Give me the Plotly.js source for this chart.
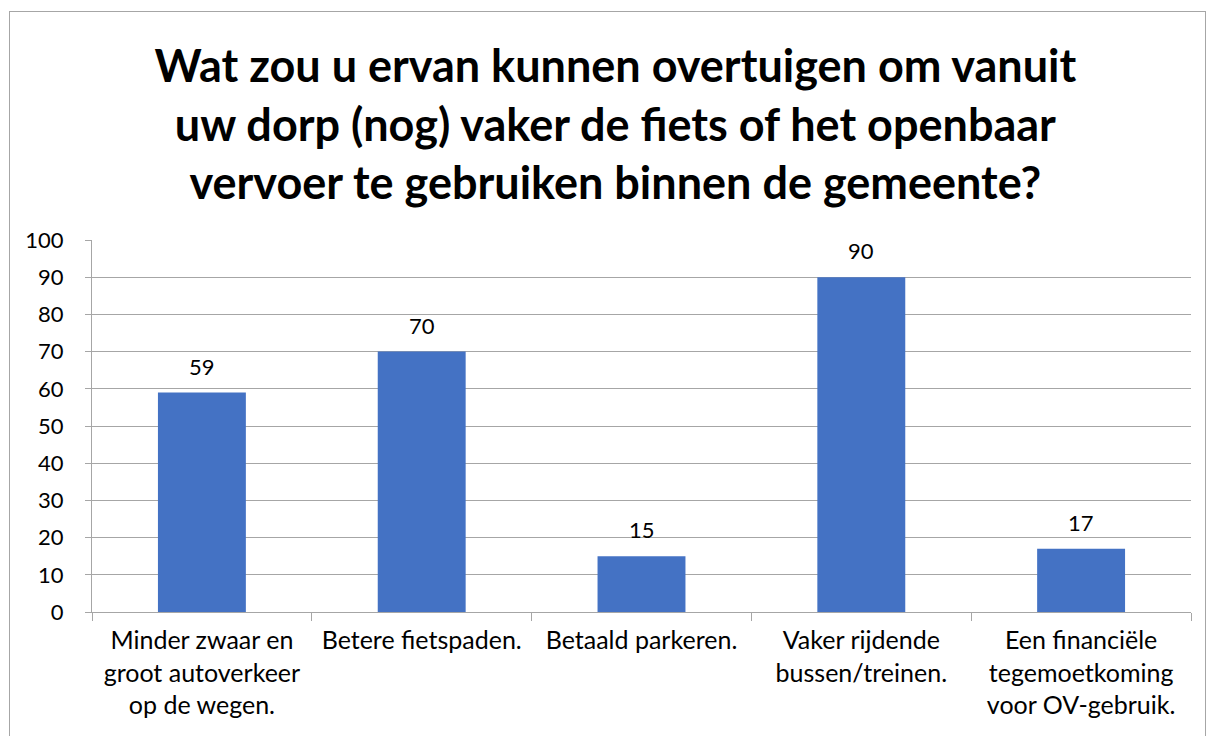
<!DOCTYPE html>
<html>
<head>
<meta charset="utf-8">
<script src="https://cdn.plot.ly/plotly-3.0.1.min.js"></script>
<style>
html,body{margin:0;padding:0;background:#fff;overflow:hidden;}
#chart{width:1209px;height:736px;}
#frame{position:absolute;left:9px;top:11px;width:1195px;height:740px;border:1px solid #a6a6a6;pointer-events:none;}
</style>
</head>
<body>
<div id="chart"></div>
<div id="frame"></div>
<script>
const categories = [
  "Minder zwaar en<br>groot autoverkeer<br>op de wegen.",
  "Betere fietspaden.",
  "Betaald parkeren.",
  "Vaker rijdende<br>bussen/treinen.",
  "Een financiële<br>tegemoetkoming<br>voor OV-gebruik."
];
const values = [59, 70, 15, 90, 17];
const yTicks = [0,10,20,30,40,50,60,70,80,90,100];
const titleText = "Wat zou u ervan kunnen overtuigen om vanuit<br>uw dorp (nog) vaker de fiets of het openbaar<br>vervoer te gebruiken binnen de gemeente?";

const FONT = "Lato, 'Open Sans', sans-serif";

const trace = {
  type: "bar",
  x: categories,
  y: values,
  marker: {color: "#4472c4"},
  hoverinfo: "x+y"
};

const annotations = categories.map((c, i) => ({
  x: c, y: values[i], xref: "x", yref: "y",
  text: String(values[i]), showarrow: false,
  yanchor: "bottom", yshift: 11,
  font: {family: FONT, size: 22, color: "#000"}
}));

const layout = {
  width: 1209, height: 736,
  paper_bgcolor: "#fff", plot_bgcolor: "#fff",
  margin: {l: 92, r: 18, t: 240, b: 124},
  bargap: 0.6,
  showlegend: false,
  title: {
    text: titleText,
    font: {family: FONT, size: 45, color: "#000", weight: "bold"},
    x: 0.509, xanchor: "center",
    y: 1 - 82/736, yref: "container", yanchor: "middle"
  },
  xaxis: {
    type: "category",
    tickson: "boundaries",
    ticks: "outside", ticklen: 8, tickcolor: "#a6a6a6",
    ticklabelstandoff: 6,
    showline: true, linecolor: "#a6a6a6", linewidth: 1,
    showgrid: false,
    tickfont: {family: FONT, size: 25, color: "#000"}
  },
  yaxis: {
    range: [0, 100],
    tickvals: yTicks,
    ticks: "outside", ticklen: 6, tickcolor: "#a6a6a6",
    ticklabelstandoff: 17,
    showline: true, linecolor: "#a6a6a6", linewidth: 1,
    showgrid: true, gridcolor: "#a6a6a6", gridwidth: 1,
    zeroline: false,
    tickfont: {family: FONT, size: 22, color: "#000"}
  },
  annotations: annotations
};

Plotly.newPlot("chart", [trace], layout, {displayModeBar: false, staticPlot: true});
</script>
</body>
</html>
